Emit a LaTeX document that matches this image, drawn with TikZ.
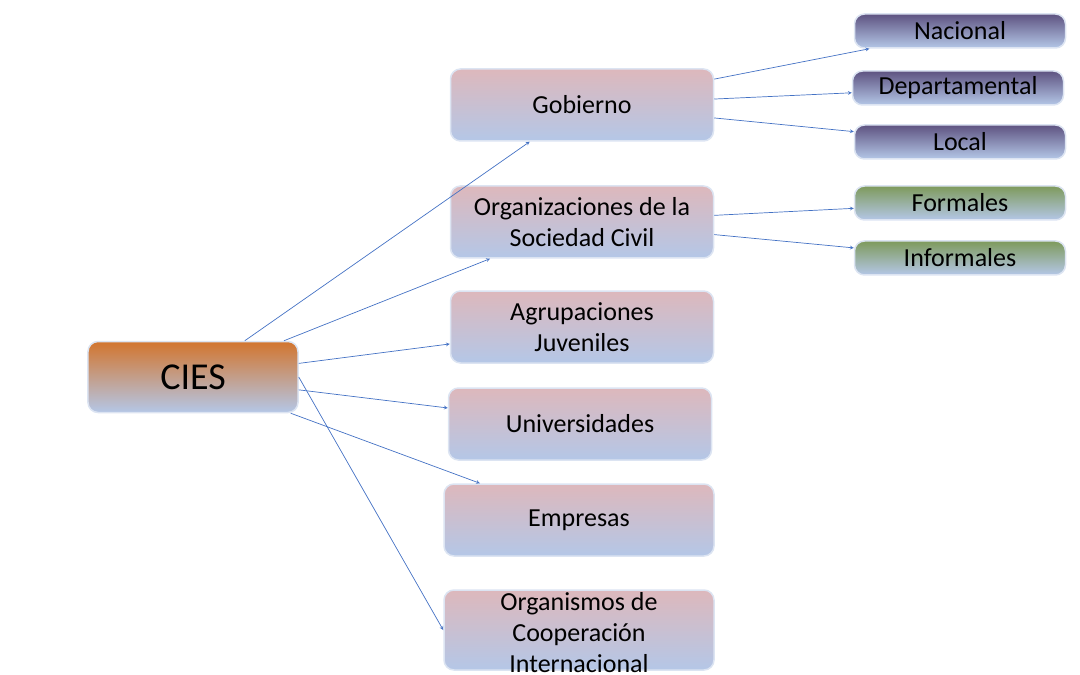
\documentclass[tikz,border=0pt]{standalone}
\usepackage{xcolor}
\usepackage{fontspec}
\setmainfont{Carlito}
\usepackage{tikz}
\usetikzlibrary{shapes.geometric, arrows}
\definecolor{orangetop}{HTML}{D2752E}
\definecolor{pinktop}{HTML}{DDB8BC}
\definecolor{purpletop}{HTML}{5E5381}
\definecolor{greentop}{HTML}{7E9A5C}
\definecolor{bluebottom}{HTML}{B4C7E7}
\definecolor{glow}{HTML}{DCE4F2}
\definecolor{linkblue}{HTML}{4472C4}
\tikzstyle{box} = [rectangle, rounded corners=10pt, draw=glow, line width=1.5pt, text centered, inner sep=0pt, bottom color=bluebottom]
\tikzstyle{root} = [box, minimum width=210pt, minimum height=71pt, top color=orangetop, font=\fontsize{38}{44}\selectfont]
\tikzstyle{topic} = [box, minimum width=263pt, minimum height=72pt, top color=pinktop, align=center, font=\fontsize{26}{31}\selectfont]
\tikzstyle{level} = [box, minimum width=211pt, minimum height=34pt, top color=purpletop, font=\fontsize{26}{31}\selectfont]
\tikzstyle{kind} = [box, minimum width=211pt, minimum height=34pt, top color=greentop, font=\fontsize{26}{31}\selectfont]
\tikzstyle{link} = [->, >=stealth, draw=linkblue, line width=0.7pt]

\begin{document}
\begin{tikzpicture}[node distance=100pt]
        \useasboundingbox (-193pt,-298pt) rectangle (887pt,377pt);
        \node (cies) [root] {CIES};
        \node (gob) [topic, right of=cies, xshift=289pt, yshift=272pt] {Gobierno};
        \node (osc) [topic, below of=gob, yshift=-17pt] {Organizaciones de la\\Sociedad Civil};
        \node (agr) [topic, below of=osc, yshift=-5pt] {Agrupaciones\\Juveniles};
        \node (uni) [topic, below of=agr, xshift=-2pt, yshift=3pt] {Universidades};
        \node (emp) [topic, below of=uni, xshift=-1pt, yshift=4pt, minimum width=270pt] {Empresas};
        \node (org) [topic, below of=emp, yshift=-10pt, minimum width=270pt, minimum height=80pt] {\smash{\raisebox{-12pt}{\begin{tabular}{@{}c@{}}Organismos de\\Cooperación\\Internacional\end{tabular}}}};

        \node (nac) [level, right of=gob, xshift=278pt, yshift=74pt] {Nacional};
        \node (dep) [level, below of=nac, xshift=-2pt, yshift=43pt] {Departamental};
        \node (loc) [level, below of=dep, xshift=2pt, yshift=46pt] {Local};
        \node (form) [kind, below of=loc, yshift=39pt] {Formales};
        \node (inf) [kind, below of=form, yshift=45pt] {Informales};

        \draw [link] (cies) -- (gob);
        \draw [link] (cies) -- (osc);
        \draw [link] (cies) -- (agr);
        \draw [link] (cies) -- (uni);
        \draw [link] (cies) -- (emp);
        \draw [link] (cies.east) -- (org.west);
        \draw [link] (gob) -- (nac);
        \draw [link] (gob) -- (dep);
        \draw [link] (gob) -- (loc);
        \draw [link] (osc) -- (form);
        \draw [link] (osc) -- (inf);
    \end{tikzpicture}
\end{document}
